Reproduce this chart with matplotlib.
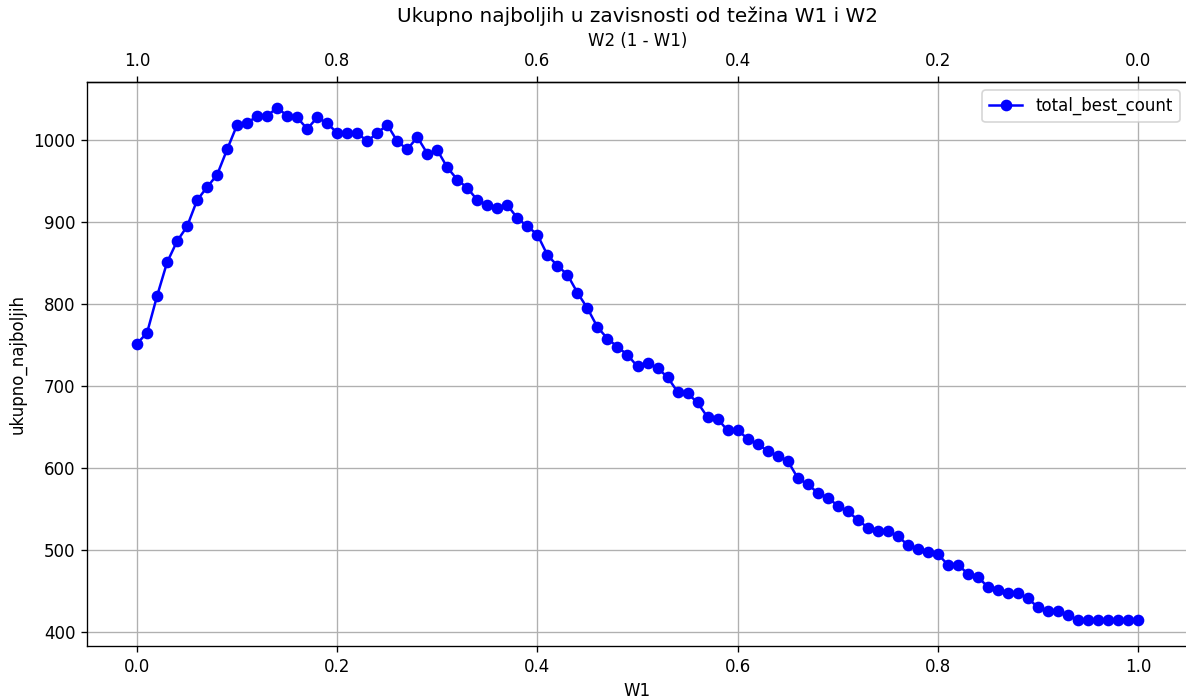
import matplotlib
matplotlib.use("Agg")
import matplotlib.pyplot as plt
import numpy as np

w1 = [round(i * 0.01, 2) for i in range(101)]
total_best_count = [
    752, 765, 810, 851, 877, 895, 927, 943, 958, 989,
    1019, 1021, 1030, 1030, 1040, 1030, 1028, 1014, 1028, 1021,
    1009, 1009, 1009, 999, 1009, 1019, 999, 989, 1004, 984,
    988, 967, 952, 942, 927, 921, 917, 921, 905, 895,
    885, 860, 847, 836, 814, 795, 772, 758, 748, 738,
    724, 728, 722, 711, 693, 691, 680, 662, 660, 646,
    646, 636, 629, 621, 615, 609, 588, 580, 570, 564,
    554, 547, 537, 527, 523, 523, 517, 506, 501, 498,
    495, 482, 482, 471, 467, 455, 451, 447, 447, 441,
    430, 426, 426, 420, 414, 414, 414, 414, 414, 414,
    414,
]

fig = plt.figure(figsize=(1186 / 120, 699 / 120), dpi=120)
ax = fig.add_axes([87 / 1186, 53 / 699, 1101 / 1186, 564 / 699])
ax.plot(w1, total_best_count, marker="o", color="blue", label="total_best_count")
ax.set_xlabel("W1")
ax.set_ylabel("ukupno_najboljih")
ax.grid(True)
ax.legend(loc="upper right")
ax.spines["right"].set_visible(False)

sec = ax.secondary_xaxis("top", functions=(lambda x: 1 - x, lambda x: 1 - x))
sec.set_xlabel("W2 (1 - W1)")
sec.spines["right"].set_visible(False) if "right" in sec.spines else None
ax.set_title("Ukupno najboljih u zavisnosti od težina W1 i W2")

fig.savefig("out.png", dpi=120)
